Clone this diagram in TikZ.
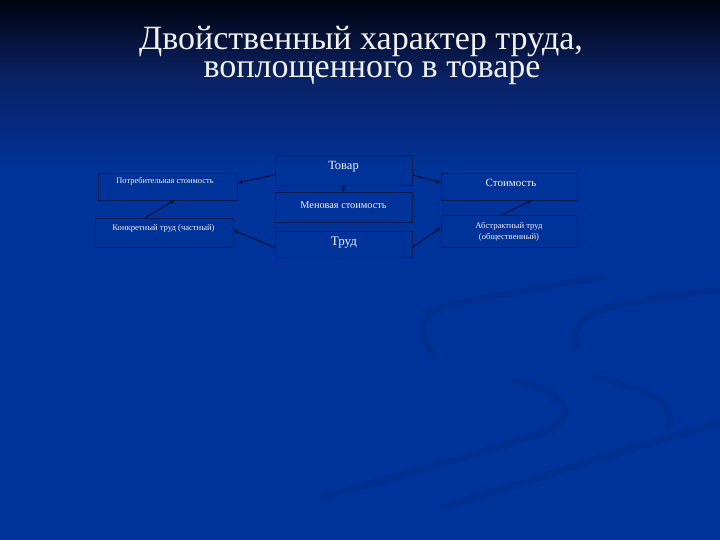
\documentclass[tikz,border=0pt]{standalone}
\usepackage{fontspec}
\setmainfont{Liberation Serif}
\usetikzlibrary{arrows.meta,positioning}

\definecolor{bgtop}{HTML}{01040F}
\definecolor{bgmid}{HTML}{0A2266}
\definecolor{bgblue}{HTML}{003399}
\definecolor{swirl}{HTML}{002F8F}
\definecolor{boxedge}{HTML}{0C1A52}
\definecolor{arrowc}{HTML}{0A1238}
\definecolor{ink}{HTML}{F2F2F2}

\begin{document}
\begin{tikzpicture}
[x=1pt,y=1pt,
 box/.style={draw=boxedge,line width=0.9pt,inner sep=0pt,outer sep=0pt},
 txt/.style={text=ink,inner sep=0pt,align=center},
 titletxt/.style={txt,anchor=base,font=\fontsize{34}{28}\selectfont},
 arr/.style={draw=arrowc,line width=1pt,-{Latex[length=5pt,width=4.5pt]}},
 dbl/.style={draw=arrowc,line width=1pt,{Latex[length=3pt,width=3.5pt]}-{Latex[length=3pt,width=3.5pt]}},
 swirlline/.style={draw=swirl,line width=7pt,line cap=round}]
\useasboundingbox (0,0) rectangle (720,-540);

% background
\shade[top color=bgtop,bottom color=bgmid] (0,0) rectangle (720,-80);
\shade[top color=bgmid,bottom color=bgblue] (0,-80) rectangle (720,-170);
\fill[bgblue] (0,-170) rectangle (720,-540);
\draw[swirlline] (513,-380) .. controls (560,-390) and (578,-410) .. (555,-427)
  .. controls (500,-450) and (400,-475) .. (323,-497);
\draw[swirlline] (433,-355) .. controls (415,-330) and (420,-310) .. (450,-305)
  .. controls (500,-295) and (550,-285) .. (600,-278);
\draw[swirlline] (577,-347) .. controls (570,-325) and (585,-312) .. (620,-305)
  .. controls (660,-297) and (700,-292) .. (720,-290);
\draw[swirlline] (593,-377) .. controls (640,-388) and (678,-400) .. (668,-425);
\draw[swirlline] (720,-423) .. controls (620,-450) and (520,-485) .. (443,-507);

% title (base = baseline of the second line)
\node[titletxt] (title) at (361,-78) {Двойственный характер труда,\\\hspace*{22pt}воплощенного в товаре};

% boxes
\node[box,minimum width=137pt,minimum height=30pt] (tovar) at (343.5,-170) {};
\node[box,minimum width=137pt,minimum height=30pt] (menov) at (343.5,-207) {};
\node[box,minimum width=137pt,minimum height=26pt] (trud) at (343.5,-244) {};
\node[box,minimum width=139pt,minimum height=27pt] (potreb) at (167.5,-186.5) {};
\node[box,minimum width=138pt,minimum height=29pt] (konkret) at (164,-232.5) {};
\node[box,minimum width=136pt,minimum height=27pt] (stoim) at (509,-186.5) {};
\node[box,minimum width=136pt,minimum height=32pt] (abstr) at (509,-231) {};

% texts
\node[txt,font=\fontsize{12.5}{14}\selectfont] (tovarT) at (343.5,-167) {Товар};
\node[txt,font=\fontsize{10.3}{12}\selectfont] (menovT) at (343.5,-205) {Меновая стоимость};
\node[txt,font=\fontsize{13}{15}\selectfont] (trudT) at (344,-243) {Труд};
\node[txt,font=\fontsize{8.4}{10}\selectfont] (potrebT) at (165,-181) {Потребительная стоимость};
\node[txt,font=\fontsize{8.6}{10}\selectfont] (konkretT) at (163.5,-228) {Конкретный труд (частный)};
\node[txt,font=\fontsize{11}{13}\selectfont] (stoimT) at (511,-183) {Стоимость};
\node[txt,font=\fontsize{8.6}{11}\selectfont] (abstrT) at (509,-231.5) {Абстрактный труд\\(общественный)};

% links
\draw[arr] (tovar.184) -- (potreb.3);
\draw[arr] (tovar.356) -- (stoim.177);
\draw[arr] (trud.183) -- (konkret.2);
\draw[arr] (trud.357) -- (abstr.177);
\draw[arr] (konkret.143) -- (potreb.299);
\draw[arr] (abstr.114) -- (stoim.330);
\draw[dbl] (tovar.south) -- (menov.north);
\end{tikzpicture}
\end{document}
